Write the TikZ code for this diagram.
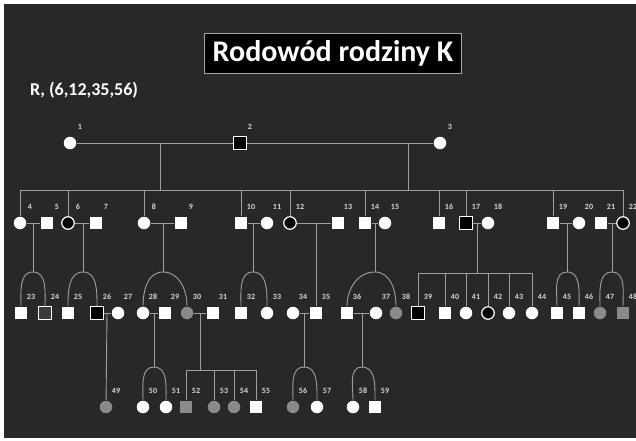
\documentclass[tikz,border=0pt]{standalone}
\usepackage{fontspec}
\setmainfont{Carlito}
\usetikzlibrary{backgrounds}
\definecolor{bg}{HTML}{282828}
\definecolor{gry}{HTML}{8A8A8A}
\definecolor{lin}{HTML}{A0A0A0}
\definecolor{lab}{HTML}{D8D8D8}
\definecolor{drk}{HTML}{3A3A3A}
\tikzset{
  ind/.style={inner sep=0pt, minimum size=12.5pt, line width=1.2pt},
  m/.style={ind, rectangle, fill=white},
  f/.style={ind, circle, fill=white},
  ma/.style={ind, rectangle, fill=black, draw=white},
  fa/.style={ind, circle, fill=black, draw=white},
  mg/.style={ind, rectangle, fill=gry},
  fg/.style={ind, circle, fill=gry},
  mo/.style={ind, rectangle, fill=drk, draw=white},
  lbl/.style={font=\bfseries\fontsize{8}{8}\selectfont, text=lab, inner sep=0pt},
  ln/.style={draw=lin, line width=0.9pt},
}
\newcommand\person[4]{\node[#2] (p#1) at (#3,#4) {}; \node[lbl] (l#1) at (#3+10,#4-16) {#1};}
\begin{document}
\begin{tikzpicture}[x=1pt,y=-1pt]
\useasboundingbox (0,0) rectangle (636,440);
\begin{scope}[on background layer]
\fill[white] (0,0) rectangle (636,440);
\fill[bg] (4,4) rectangle (636,438);
\end{scope}

\node[fill=black, draw=gray!70, line width=0.6pt, minimum width=257, minimum height=40, font=\bfseries\fontsize{30}{30}\selectfont, text=white] (title) at (333,53) {Rodowód rodziny K};
\node[anchor=west, font=\bfseries\fontsize{18}{18}\selectfont, text=white, inner sep=0pt] (rr) at (30,90) {R, (6,12,35,56)};

% generation I
\person{1}{f}{70}{143}
\person{2}{ma}{240}{143}
\person{3}{f}{440}{143}

% generation II
\person{4}{f}{20}{223}
\person{5}{m}{47}{223}
\person{6}{fa}{68}{223}
\person{7}{m}{96}{223}
\person{8}{f}{144}{223}
\person{9}{m}{181}{223}
\person{10}{m}{241}{223}
\person{11}{f}{267}{223}
\person{12}{fa}{290}{223}
\person{13}{m}{338}{223}
\person{14}{m}{365}{223}
\person{15}{f}{385}{223}
\person{16}{m}{439}{223}
\person{17}{ma}{466}{223}
\person{18}{f}{488}{223}
\person{19}{m}{553}{223}
\person{20}{f}{579}{223}
\person{21}{m}{601}{223}
\person{22}{fa}{623}{223}

% generation III
\person{23}{m}{21}{313}
\person{24}{mo}{45}{313}
\person{25}{m}{68}{313}
\person{26}{ma}{97}{313}
\person{27}{f}{118}{313}
\person{28}{f}{143}{313}
\person{29}{m}{165}{313}
\person{30}{fg}{187}{313}
\person{31}{m}{213}{313}
\person{32}{m}{241}{313}
\person{33}{f}{267}{313}
\person{34}{f}{293}{313}
\person{35}{m}{316}{313}
\person{36}{m}{347}{313}
\person{37}{f}{376}{313}
\person{38}{fg}{396}{313}
\person{39}{ma}{418}{313}
\person{40}{m}{445}{313}
\person{41}{f}{466}{313}
\person{42}{fa}{488}{313}
\person{43}{f}{509}{313}
\person{44}{f}{532}{313}
\person{45}{m}{557}{313}
\person{46}{m}{579}{313}
\person{47}{fg}{600}{313}
\person{48}{mg}{623}{313}

% generation IV
\person{49}{fg}{106}{407}
\person{50}{f}{143}{407}
\person{51}{f}{166}{407}
\person{52}{mg}{186}{407}
\person{53}{fg}{214}{407}
\person{54}{fg}{234}{407}
\person{55}{m}{256}{407}
\person{56}{fg}{293}{407}
\person{57}{f}{317}{407}
\person{58}{f}{353}{407}
\person{59}{m}{375}{407}

% junction coordinates
\coordinate (m12) at (160,143);
\coordinate (m23) at (408,143);
\coordinate (s1) at (160,190);
\coordinate (s2) at (408,190);
\coordinate (m45) at (33,223);   \coordinate (t45) at (33,272);
\coordinate (m67) at (83,223);   \coordinate (t67) at (83,272);
\coordinate (m89) at (163,223);  \coordinate (t89) at (163,272);
\coordinate (m1011) at (253,223); \coordinate (t1011) at (253,272);
\coordinate (m1213) at (316,223);
\coordinate (m1415) at (375,223); \coordinate (t1415) at (375,272);
\coordinate (m1718) at (477,223); \coordinate (t1718) at (477,273);
\coordinate (m1920) at (567,223); \coordinate (t1920) at (567,272);
\coordinate (m2122) at (612,223); \coordinate (t2122) at (612,272);
\coordinate (m2627) at (107,313);
\coordinate (m2829) at (154,313); \coordinate (t2829) at (154,367);
\coordinate (m3031) at (200,313); \coordinate (t3031) at (200,370);
\coordinate (m3435) at (304,313); \coordinate (t3435) at (304,367);
\coordinate (m3637) at (362,313); \coordinate (t3637) at (362,367);

\begin{scope}[on background layer]
% generation I
\draw[ln] (p1) -- (p2);
\draw[ln] (p2) -- (p3);
\draw[ln] (m12) -- (s1);
\draw[ln] (m23) -- (s2);
\draw[ln] (p4 |- s1) -- (p22 |- s1);
\foreach \c in {4,6,8,10,12,14,16,17,19,22} {\draw[ln] (p\c |- s1) -- (p\c);}
% generation II couples
\draw[ln] (p4) -- (p5);
\draw[ln] (p6) -- (p7);
\draw[ln] (p8) -- (p9);
\draw[ln] (p10) -- (p11);
\draw[ln] (p12) -- (p13);
\draw[ln] (p14) -- (p15);
\draw[ln] (p17) -- (p18);
\draw[ln] (p19) -- (p20);
\draw[ln] (p21) -- (p22);
% descents to generation III
\draw[ln] (m45) -- (t45);
\draw[ln] (t45) to[out=180,in=90] (p23.north);
\draw[ln] (t45) to[out=0,in=90] (p24.north);
\draw[ln] (m67) -- (t67);
\draw[ln] (t67) to[out=180,in=90] (p25.north);
\draw[ln] (t67) to[out=0,in=90] (p26.north);
\draw[ln] (m89) -- (t89);
\draw[ln] (t89) to[out=180,in=90] (p28.north);
\draw[ln] (t89) to[out=0,in=90] (p30.north);
\draw[ln] (m1011) -- (t1011);
\draw[ln] (t1011) to[out=180,in=90] (p32.north);
\draw[ln] (t1011) to[out=0,in=90] (p33.north);
\draw[ln] (m1213) -- (p35);
\draw[ln] (m1415) -- (t1415);
\draw[ln] (t1415) to[out=180,in=90] (p36.north);
\draw[ln] (t1415) to[out=0,in=90] (p38.north);
\draw[ln] (m1718) -- (t1718);
\draw[ln] (p39 |- t1718) -- (p44 |- t1718);
\foreach \c in {39,40,41,42,43,44} {\draw[ln] (p\c |- t1718) -- (p\c);}
\draw[ln] (m1920) -- (t1920);
\draw[ln] (t1920) to[out=180,in=90] (p45.north);
\draw[ln] (t1920) to[out=0,in=90] (p46.north);
\draw[ln] (m2122) -- (t2122);
\draw[ln] (t2122) to[out=180,in=90] (p47.north);
\draw[ln] (t2122) to[out=0,in=90] (p48.north);
% generation III couples
\draw[ln] (p26) -- (p27);
\draw[ln] (p28) -- (p29);
\draw[ln] (p30) -- (p31);
\draw[ln] (p34) -- (p35);
\draw[ln] (p36) -- (p37);
% descents to generation IV
\draw[ln] (m2627) -- (p49);
\draw[ln] (m2829) -- (t2829);
\draw[ln] (t2829) to[out=180,in=90] (p50.north);
\draw[ln] (t2829) to[out=0,in=90] (p51.north);
\draw[ln] (m3031) -- (t3031);
\draw[ln] (p52 |- t3031) -- (p55 |- t3031);
\foreach \c in {52,53,54,55} {\draw[ln] (p\c |- t3031) -- (p\c);}
\draw[ln] (m3435) -- (t3435);
\draw[ln] (t3435) to[out=180,in=90] (p56.north);
\draw[ln] (t3435) to[out=0,in=90] (p57.north);
\draw[ln] (m3637) -- (t3637);
\draw[ln] (t3637) to[out=180,in=90] (p58.north);
\draw[ln] (t3637) to[out=0,in=90] (p59.north);
\end{scope}
\end{tikzpicture}
\end{document}
